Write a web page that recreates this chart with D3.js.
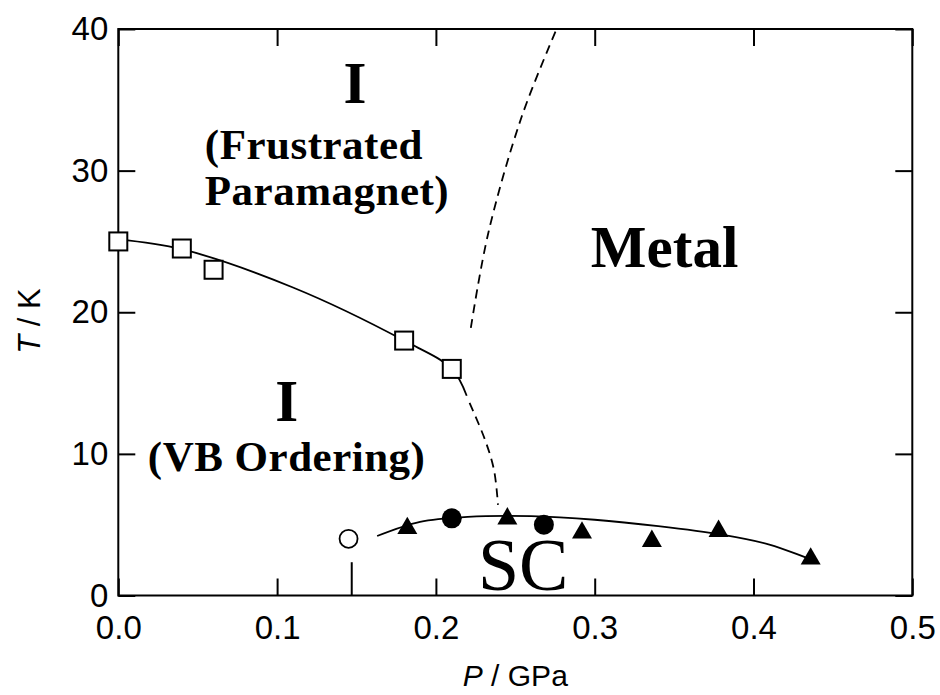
<!DOCTYPE html>
<html>
<head>
<meta charset="utf-8">
<script src="https://cdn.jsdelivr.net/npm/d3@7"></script>
<style>
  html, body { margin: 0; padding: 0; background: #fff; }
  svg { display: block; }
</style>
</head>
<body>
<svg id="chart" width="940" height="695"></svg>
<script>
// ---------------- data ----------------
const xTicks = [0.0, 0.1, 0.2, 0.3, 0.4, 0.5];
const yTicks = [0, 10, 20, 30, 40];
const xTickLabels = ["0.0", "0.1", "0.2", "0.3", "0.4", "0.5"];
const yTickLabels = ["0", "10", "20", "30", "40"];

// open squares: insulating transition
const squaresP = [0.0, 0.04, 0.06, 0.18, 0.21];
const squaresT = [25.0, 24.5, 23.0, 18.0, 16.0];

// open circle (SC onset, low)
const openCircleP = [0.145];
const openCircleT = [4.0];

// filled circles (SC)
const filledCircleP = [0.21, 0.268];
const filledCircleT = [5.45, 5.0];

// filled triangles (SC)
const triangleP = [0.182, 0.245, 0.292, 0.336, 0.378, 0.436];
const triangleT = [4.95, 5.63, 4.63, 4.04, 4.75, 2.8];

// guide curves
const boundarySolidP = [0.0, 0.04, 0.11, 0.18, 0.21, 0.2194];
const boundarySolidT = [25.15, 24.45, 21.75, 18.0, 16.0, 14.1];

const boundaryDashLowP = [0.2212, 0.2309, 0.2366, 0.2391];
const boundaryDashLowT = [13.6, 11.0, 8.86, 6.4];

const boundaryDashUpP = [0.222, 0.233, 0.254, 0.276];
const boundaryDashUpT = [18.9, 25.6, 33.8, 40.0];

const scCurveP = [0.163, 0.19, 0.22, 0.26, 0.30, 0.34, 0.38, 0.41, 0.437];
const scCurveT = [4.2, 5.2, 5.55, 5.6, 5.35, 4.9, 4.3, 3.6, 2.5];

// marker tick at the open circle pressure
const markerTickP = [0.147];
const markerTickT = [0, 2.35];

// region labels
const regionLabels = [
  { text: "I", P: 0.149, T: 34.8, cls: "big" },
  { text: "(Frustrated", P: 0.0545, T: 30.8, cls: "mid", anchor: "start" },
  { text: "Paramagnet)", P: 0.0545, T: 27.6, cls: "mid", anchor: "start" },
  { text: "Metal", P: 0.344, T: 23.2, cls: "big" },
  { text: "I", P: 0.106, T: 12.3, cls: "big" },
  { text: "(VB Ordering)", P: 0.106, T: 8.8, cls: "mid" },
  { text: "SC", P: 0.255, T: 0.4, cls: "sc" }
];

// ---------------- layout ----------------
const svg = d3.select("#chart");
const L = 118.3, R = 912.3, Tp = 29, B = 595.5;

const x = d3.scaleLinear().domain([0, 0.5]).range([L, R]);
const y = d3.scaleLinear().domain([0, 40]).range([B, Tp]);

const tickFont = "'Liberation Sans', Arial, sans-serif";
const serif = "'Liberation Serif', 'Times New Roman', serif";

// axes
const gB = svg.append("g").attr("transform", `translate(0,${B})`)
  .call(d3.axisBottom(x).tickValues(xTicks).tickSize(-17).tickPadding(20)
    .tickFormat((d, i) => xTickLabels[i]));
const gL = svg.append("g").attr("transform", `translate(${L},0)`)
  .call(d3.axisLeft(y).tickValues(yTicks).tickSize(-17).tickPadding(10)
    .tickFormat((d, i) => yTickLabels[i]));
const gT = svg.append("g").attr("transform", `translate(0,${Tp})`)
  .call(d3.axisTop(x).tickValues(xTicks).tickSize(-17).tickFormat(""));
const gR = svg.append("g").attr("transform", `translate(${R},0)`)
  .call(d3.axisRight(y).tickValues(yTicks).tickSize(-17).tickFormat(""));

[gB, gL, gT, gR].forEach(g => {
  g.select(".domain").remove();
  g.selectAll(".tick line").attr("stroke", "#000").attr("stroke-width", 2);
  g.selectAll(".tick text").attr("fill", "#000")
    .style("font-family", tickFont).style("font-size", "33px");
});

// frame
svg.append("rect").attr("x", L).attr("y", Tp).attr("width", R - L).attr("height", B - Tp)
  .attr("fill", "none").attr("stroke", "#000").attr("stroke-width", 2);

// axis titles
svg.append("text").attr("x", (L + R) / 2).attr("y", 686)
  .attr("text-anchor", "middle").style("font-family", tickFont).style("font-size", "30px")
  .html('<tspan font-style="italic">P</tspan> / GPa');
svg.append("text").attr("transform", "translate(40,321) rotate(-90)")
  .attr("text-anchor", "middle").style("font-family", tickFont).style("font-size", "31px")
  .html('<tspan font-style="italic">T</tspan> / K');

// marker tick
svg.append("line")
  .attr("x1", x(markerTickP[0])).attr("x2", x(markerTickP[0]))
  .attr("y1", y(markerTickT[0])).attr("y2", y(markerTickT[1]))
  .attr("stroke", "#000").attr("stroke-width", 2);

// curves
const zip = (P, T) => P.map((p, i) => [p, T[i]]);
const line = d3.line().x(d => x(d[0])).y(d => y(d[1])).curve(d3.curveCatmullRom.alpha(0.5));

svg.append("path").attr("d", line(zip(boundarySolidP, boundarySolidT)))
  .attr("fill", "none").attr("stroke", "#000").attr("stroke-width", 1.8);
svg.append("path").attr("d", line(zip(boundaryDashLowP, boundaryDashLowT)))
  .attr("fill", "none").attr("stroke", "#000").attr("stroke-width", 1.8)
  .attr("stroke-dasharray", "9,6");
svg.append("path").attr("d", line(zip(boundaryDashUpP, boundaryDashUpT)))
  .attr("fill", "none").attr("stroke", "#000").attr("stroke-width", 1.8)
  .attr("stroke-dasharray", "9,6");
svg.append("path").attr("d", line(zip(scCurveP, scCurveT)))
  .attr("fill", "none").attr("stroke", "#000").attr("stroke-width", 1.8);

// open squares
const sq = 18;
svg.selectAll("rect.sq").data(zip(squaresP, squaresT)).enter().append("rect")
  .attr("class", "sq")
  .attr("x", d => x(d[0]) - sq / 2).attr("y", d => y(d[1]) - sq / 2)
  .attr("width", sq).attr("height", sq)
  .attr("fill", "#fff").attr("stroke", "#000").attr("stroke-width", 2);

// open circle
svg.selectAll("circle.oc").data(zip(openCircleP, openCircleT)).enter().append("circle")
  .attr("class", "oc").attr("cx", d => x(d[0])).attr("cy", d => y(d[1])).attr("r", 9)
  .attr("fill", "#fff").attr("stroke", "#000").attr("stroke-width", 1.8);

// filled circles
svg.selectAll("circle.fc").data(zip(filledCircleP, filledCircleT)).enter().append("circle")
  .attr("class", "fc").attr("cx", d => x(d[0])).attr("cy", d => y(d[1])).attr("r", 10)
  .attr("fill", "#000");

// triangles
const triSide = 20;
const triH = triSide * Math.sqrt(3) / 2;
const tri = d3.symbol().type(d3.symbolTriangle).size(Math.sqrt(3) / 4 * triSide * triSide);
svg.selectAll("path.tri").data(zip(triangleP, triangleT)).enter().append("path")
  .attr("class", "tri")
  .attr("transform", d => `translate(${x(d[0])},${y(d[1]) + triH / 6})`)
  .attr("d", tri).attr("fill", "#000");

// region labels
svg.selectAll("text.region").data(regionLabels).enter().append("text")
  .attr("class", "region")
  .attr("x", d => x(d.P)).attr("y", d => y(d.T))
  .attr("text-anchor", d => d.anchor || "middle")
  .style("font-family", serif)
  .style("font-weight", d => d.cls === "sc" ? "normal" : "bold")
  .style("font-size", d => d.cls === "big" ? "59px" : d.cls === "mid" ? "43px" : "74px")
  .style("letter-spacing", d => d.cls === "mid" ? "0.5px" : "0px")
  .text(d => d.text);
</script>
</body>
</html>
